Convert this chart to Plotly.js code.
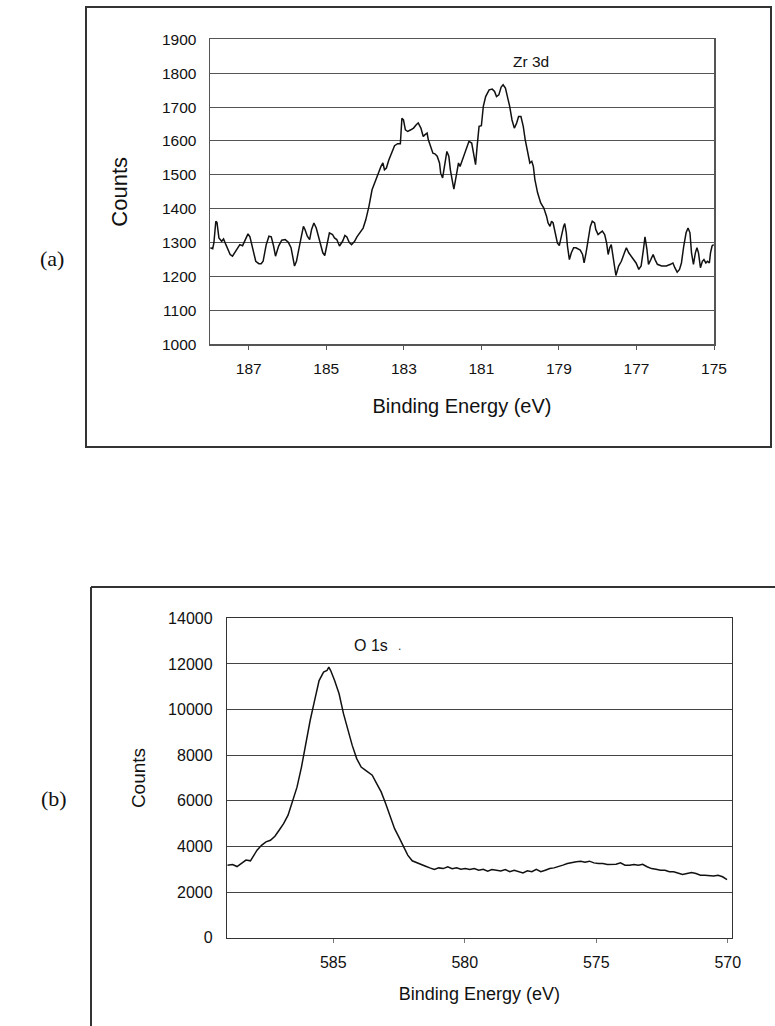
<!DOCTYPE html>
<html>
<head>
<meta charset="utf-8">
<script src="https://cdn.plot.ly/plotly-3.0.1.min.js"></script>
<style>
html,body{margin:0;padding:0;background:#fff;}
#chart{width:775px;height:1026px;}
</style>
</head>
<body>
<div id="chart"></div>
<script>
// ---- Panel (a): Zr 3d ----
const zrEnergy = [187.99,187.93,187.90,187.85,187.82,187.77,187.70,187.65,187.59,187.48,187.42,187.31,187.23,187.16,187.08,187.02,186.97,186.91,186.82,186.74,186.68,186.63,186.55,186.48,186.42,186.36,186.31,186.23,186.15,186.06,185.98,185.91,185.85,185.82,185.77,185.72,185.66,185.59,185.55,185.49,185.43,185.38,185.32,185.26,185.21,185.15,185.09,185.04,184.98,184.92,184.84,184.79,184.73,184.66,184.58,184.52,184.47,184.41,184.35,184.27,184.21,184.13,184.05,183.98,183.90,183.82,183.73,183.64,183.59,183.54,183.50,183.45,183.39,183.31,183.24,183.16,183.09,183.05,183.01,182.96,182.90,182.82,182.75,182.68,182.63,182.56,182.50,182.46,182.40,182.37,182.31,182.25,182.20,182.14,182.08,182.05,182.00,181.93,181.89,181.84,181.80,181.74,181.71,181.65,181.59,181.55,181.49,181.43,181.38,181.32,181.25,181.20,181.15,181.11,181.06,181.00,180.95,180.89,180.80,180.72,180.66,180.61,180.55,180.49,180.44,180.38,180.32,180.27,180.21,180.15,180.09,180.04,179.98,179.92,179.87,179.81,179.75,179.70,179.66,179.62,179.55,179.47,179.39,179.32,179.28,179.23,179.19,179.15,179.10,179.04,178.99,178.94,178.88,178.85,178.81,178.78,178.73,178.68,178.62,178.56,178.50,178.45,178.39,178.35,178.30,178.25,178.19,178.14,178.08,178.05,177.99,177.94,177.88,177.82,177.77,177.73,177.69,177.65,177.62,177.57,177.53,177.46,177.39,177.31,177.26,177.20,177.14,177.06,177.01,176.94,176.88,176.82,176.78,176.73,176.69,176.63,176.57,176.52,176.46,176.35,176.23,176.12,176.06,176.01,175.95,175.89,175.84,175.78,175.72,175.67,175.62,175.58,175.53,175.48,175.44,175.40,175.35,175.30,175.26,175.21,175.17,175.12,175.09,175.05,175.01];
const zrCounts = [1285,1282,1299,1363,1360,1314,1304,1311,1294,1265,1260,1282,1294,1291,1314,1326,1317,1290,1245,1238,1238,1245,1294,1319,1317,1290,1260,1290,1307,1309,1301,1285,1245,1231,1245,1270,1309,1348,1339,1319,1309,1339,1358,1343,1319,1294,1270,1262,1299,1329,1324,1314,1309,1290,1304,1321,1317,1301,1294,1304,1317,1329,1343,1368,1407,1456,1486,1510,1525,1535,1515,1520,1543,1564,1586,1592,1592,1667,1662,1633,1628,1633,1638,1648,1653,1638,1613,1618,1623,1604,1584,1564,1562,1555,1535,1505,1491,1535,1569,1555,1515,1476,1458,1496,1535,1525,1545,1564,1584,1599,1594,1555,1530,1584,1643,1645,1702,1731,1751,1753,1746,1731,1736,1759,1766,1756,1731,1702,1662,1638,1653,1672,1672,1643,1604,1574,1535,1540,1525,1486,1447,1417,1402,1378,1358,1348,1363,1358,1329,1299,1291,1319,1348,1356,1329,1290,1250,1270,1285,1285,1280,1278,1265,1240,1270,1309,1348,1363,1358,1339,1324,1329,1334,1324,1299,1265,1285,1294,1270,1221,1203,1231,1245,1270,1285,1270,1260,1250,1240,1221,1231,1280,1317,1280,1236,1250,1265,1250,1236,1231,1231,1236,1240,1226,1213,1221,1240,1290,1329,1343,1329,1270,1236,1270,1285,1270,1226,1245,1250,1240,1245,1240,1270,1290,1294];
const zrXTicks = [187,185,183,181,179,177,175];
const zrYTicks = [1000,1100,1200,1300,1400,1500,1600,1700,1800,1900];

// ---- Panel (b): O 1s ----
const oEnergy = [589.03,588.83,588.66,588.49,588.32,588.15,588.07,587.90,587.73,587.56,587.39,587.22,587.06,586.89,586.72,586.55,586.38,586.21,586.05,585.88,585.71,585.54,585.37,585.24,585.17,585.10,584.95,584.78,584.61,584.44,584.28,584.11,583.94,583.77,583.52,583.35,583.18,583.01,582.84,582.67,582.51,582.34,582.17,582.00,581.83,581.66,581.49,581.33,581.16,580.99,580.82,580.65,580.48,580.31,580.15,579.98,579.81,579.64,579.47,579.30,579.13,578.97,578.80,578.63,578.46,578.29,578.12,577.95,577.79,577.62,577.45,577.28,577.11,576.94,576.77,576.61,576.44,576.27,576.10,575.93,575.76,575.59,575.43,575.26,575.09,574.92,574.75,574.58,574.41,574.25,574.08,573.91,573.74,573.57,573.40,573.24,573.07,572.90,572.73,572.56,572.39,572.22,572.06,571.89,571.72,571.55,571.38,571.21,571.04,570.88,570.71,570.54,570.37,570.20,570.03];
const oCounts = [3180,3210,3120,3260,3400,3370,3540,3835,4050,4200,4270,4450,4710,5000,5370,5950,6600,7480,8500,9520,10400,11270,11640,11710,11860,11710,11270,10690,9810,9085,8430,7850,7480,7335,7120,6750,6390,5880,5290,4780,4420,3980,3620,3370,3280,3220,3135,3060,2990,3060,3030,3110,3020,3060,3000,3030,2990,3030,2960,3000,2920,2990,2960,2920,2990,2890,2960,2890,2840,2930,2890,3000,2890,2960,3030,3060,3110,3180,3250,3300,3325,3355,3310,3355,3280,3250,3250,3210,3220,3220,3280,3180,3180,3210,3180,3220,3110,3030,3000,2960,2960,2890,2890,2815,2770,2815,2860,2815,2740,2740,2710,2700,2740,2670,2550];
const oXTicks = [585,580,575,570];
const oYTicks = [0,2000,4000,6000,8000,10000,12000,14000];

const W = 775, H = 1026;
const px = v => v / W;
const py = v => 1 - v / H;
const font = 'Liberation Sans, Arial, sans-serif';

const traces = [
  {x: zrEnergy, y: zrCounts, xaxis: 'x', yaxis: 'y', mode: 'lines',
   line: {color: '#111', width: 1.5}, hoverinfo: 'skip', showlegend: false},
  {x: oEnergy, y: oCounts, xaxis: 'x2', yaxis: 'y2', mode: 'lines',
   line: {color: '#111', width: 1.5}, hoverinfo: 'skip', showlegend: false}
];

const layout = {
  width: W, height: H,
  margin: {l: 0, r: 0, t: 0, b: 0},
  paper_bgcolor: '#fff', plot_bgcolor: '#fff',
  showlegend: false,
  font: {family: font, color: '#111'},
  xaxis: {
    domain: [px(210), px(714)], anchor: 'y',
    range: [188, 175], tickvals: zrXTicks, ticktext: zrXTicks.map(String),
    ticks: 'outside', ticklen: 4, tickcolor: '#555', tickwidth: 1, ticklabelstandoff: 6,
    showline: true, linecolor: '#555', linewidth: 1.5, mirror: true,
    showgrid: false, zeroline: false,
    tickfont: {size: 15.5, family: font, color: '#111'},
    title: {text: 'Binding Energy (eV)', font: {size: 20, family: font, color: '#111'}, standoff: 22}
  },
  yaxis: {
    domain: [py(344.3), py(39.3)], anchor: 'x',
    range: [1000, 1900], tickvals: zrYTicks, ticktext: zrYTicks.map(String),
    ticks: '', ticklabelstandoff: 9,
    showline: true, linecolor: '#555', linewidth: 1.5, mirror: true,
    showgrid: true, gridcolor: '#555', gridwidth: 1, zeroline: false,
    tickfont: {size: 15.5, family: font, color: '#111'},
    title: {text: 'Counts', font: {size: 22, family: font, color: '#111'}, standoff: 28}
  },
  xaxis2: {
    domain: [px(227.3), px(731.5)], anchor: 'y2',
    range: [589.03, 569.86], tickvals: oXTicks, ticktext: oXTicks.map(String),
    ticks: 'outside', ticklen: 4, tickcolor: '#777', tickwidth: 1, ticklabelstandoff: 6,
    showline: true, linecolor: '#333', linewidth: 1.5, mirror: true,
    showgrid: false, zeroline: false,
    tickfont: {size: 16, family: font, color: '#111'},
    title: {text: 'Binding Energy (eV)', font: {size: 18, family: font, color: '#111'}, standoff: 17}
  },
  yaxis2: {
    domain: [py(937.7), py(618.3)], anchor: 'x2',
    range: [0, 14000], tickvals: oYTicks, ticktext: oYTicks.map(String),
    ticks: '', ticklabelstandoff: 10,
    showline: true, linecolor: '#333', linewidth: 1.5, mirror: true,
    showgrid: true, gridcolor: '#444', gridwidth: 1, zeroline: false,
    tickfont: {size: 16, family: font, color: '#111'},
    title: {text: 'Counts', font: {size: 19, family: font, color: '#111'}, standoff: 17}
  },
  annotations: [
    {xref: 'paper', yref: 'paper', x: px(531), y: py(61), text: 'Zr 3d', showarrow: false,
     xanchor: 'center', yanchor: 'middle', font: {size: 15.5, family: font, color: '#111'}},
    {xref: 'paper', yref: 'paper', x: px(370.5), y: py(645), text: 'O 1s', showarrow: false,
     xanchor: 'center', yanchor: 'middle', font: {size: 16, family: font, color: '#111'}},
    {xref: 'paper', yref: 'paper', x: px(399), y: py(646), text: '.', showarrow: false,
     xanchor: 'center', yanchor: 'middle', font: {size: 12, family: font, color: '#333'}},
    {xref: 'paper', yref: 'paper', x: px(52), y: py(258), text: '(a)', showarrow: false,
     xanchor: 'center', yanchor: 'middle', font: {size: 22, family: 'Liberation Serif, Times New Roman, serif', color: '#111'}},
    {xref: 'paper', yref: 'paper', x: px(54), y: py(798), text: '(b)', showarrow: false,
     xanchor: 'center', yanchor: 'middle', font: {size: 22, family: 'Liberation Serif, Times New Roman, serif', color: '#111'}}
  ],
  shapes: [
    {type: 'rect', xref: 'paper', yref: 'paper', x0: px(86), x1: px(771), y0: py(447), y1: py(7),
     line: {color: '#333', width: 2}, fillcolor: 'rgba(0,0,0,0)', layer: 'below'},
    {type: 'line', xref: 'paper', yref: 'paper', x0: px(91), x1: px(91), y0: py(587), y1: 0,
     line: {color: '#333', width: 2}},
    {type: 'line', xref: 'paper', yref: 'paper', x0: px(91), x1: 1, y0: py(587), y1: py(587),
     line: {color: '#333', width: 2}}
  ]
};

Plotly.newPlot('chart', traces, layout, {staticPlot: true, displayModeBar: false});
</script>
</body>
</html>
